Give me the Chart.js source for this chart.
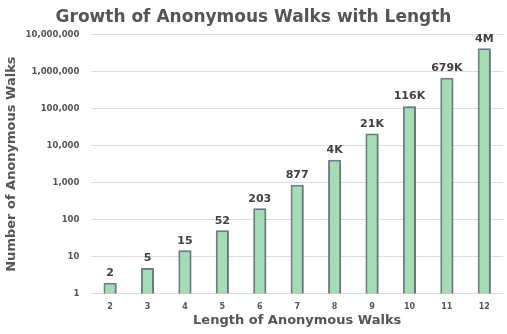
<!DOCTYPE html>
<html>
<head>
<meta charset="utf-8">
<title>Growth of Anonymous Walks with Length</title>
<script src="https://cdn.jsdelivr.net/npm/chart.js@4/dist/chart.umd.min.js"></script>
<style>
  html, body { margin: 0; padding: 0; background: #ffffff; }
  #wrap { width: 507px; height: 334px; position: relative; }
</style>
</head>
<body>
<div id="wrap"><canvas id="walksChart"></canvas></div>
<script>
// walk length and number of distinct anonymous walks (Bell numbers)
const walkLengths = ['2', '3', '4', '5', '6', '7', '8', '9', '10', '11', '12'];
const walkCounts = [2, 5, 15, 52, 203, 877, 4140, 21147, 115975, 678570, 4213597];
const yTickValues = [1, 10, 100, 1000, 10000, 100000, 1000000, 10000000];

const fontFamily = '"DejaVu Sans", Verdana, sans-serif';
const textColor = '#555555';

function shortNumber(v) {
    if (v >= 1000000) return Math.round(v / 1000000) + 'M';
    if (v >= 1000) return Math.round(v / 1000) + 'K';
    return String(v);
}

// soft shadow under the bars
const barShadow = {
    id: 'barShadow',
    beforeDatasetDraw(chart) {
        const ctx = chart.ctx;
        ctx.save();
        ctx.shadowColor = 'rgba(40, 50, 60, 0.35)';
        ctx.shadowBlur = 3;
        ctx.shadowOffsetX = 1;
        ctx.shadowOffsetY = 1;
    },
    afterDatasetDraw(chart) {
        chart.ctx.restore();
    }
};

// value text above each bar
const valueLabels = {
    id: 'valueLabels',
    afterDatasetsDraw(chart) {
        const ctx = chart.ctx;
        const meta = chart.getDatasetMeta(0);
        ctx.save();
        ctx.font = 'bold 11px ' + fontFamily;
        ctx.fillStyle = '#404040';
        ctx.textAlign = 'center';
        ctx.textBaseline = 'bottom';
        meta.data.forEach((bar, i) => {
            ctx.fillText(shortNumber(walkCounts[i]), bar.x, bar.y - 4);
        });
        ctx.restore();
    }
};

const chartData = {
    labels: walkLengths,
    datasets: [
        {
            label: 'Anonymous walks',
            data: walkCounts,
            backgroundColor: '#a6dcb3',
            borderColor: '#6f808d',
            borderWidth: 2,
            barPercentage: 0.35,
            categoryPercentage: 1.0,
        },
    ],
};

const chartOptions = {
    responsive: true,
    maintainAspectRatio: false,
    animation: false,
    layout: { padding: { left: 4, right: 4, top: 3, bottom: 6 } },
    scales: {
        x: {
            grid: { display: false, drawTicks: false },
            border: { display: false },
            ticks: {
                color: textColor,
                font: { family: fontFamily, size: 8, weight: 'bold' },
                padding: 8,
            },
            title: {
                display: true,
                text: 'Length of Anonymous Walks',
                color: textColor,
                font: { family: fontFamily, size: 13, weight: 'bold' },
                padding: { top: -7, bottom: 0 },
            },
        },
        y: {
            type: 'logarithmic',
            min: 1,
            max: 10000000,
            afterBuildTicks(axis) {
                axis.ticks = yTickValues.map(v => ({ value: v }));
            },
            grid: { color: '#dddddd', drawTicks: false, lineWidth: 1 },
            border: { display: false },
            ticks: {
                color: textColor,
                font: { family: fontFamily, size: 8.5, weight: 'bold' },
                padding: 12,
                callback: v => Number(v).toLocaleString('en-US'),
            },
            title: {
                display: true,
                text: 'Number of Anonymous Walks',
                color: textColor,
                font: { family: fontFamily, size: 13, weight: 'bold' },
                padding: { top: 0, bottom: -6 },
            },
        },
    },
    plugins: {
        legend: { display: false },
        tooltip: { enabled: false },
        title: {
            display: true,
            text: 'Growth of Anonymous Walks with Length',
            color: textColor,
            font: { family: fontFamily, size: 17, weight: 'bold' },
            padding: { top: 4, bottom: 7 },
        },
    },
};

new Chart(document.getElementById('walksChart'), {
    type: 'bar',
    data: chartData,
    options: chartOptions,
    plugins: [barShadow, valueLabels],
});
</script>
</body>
</html>
